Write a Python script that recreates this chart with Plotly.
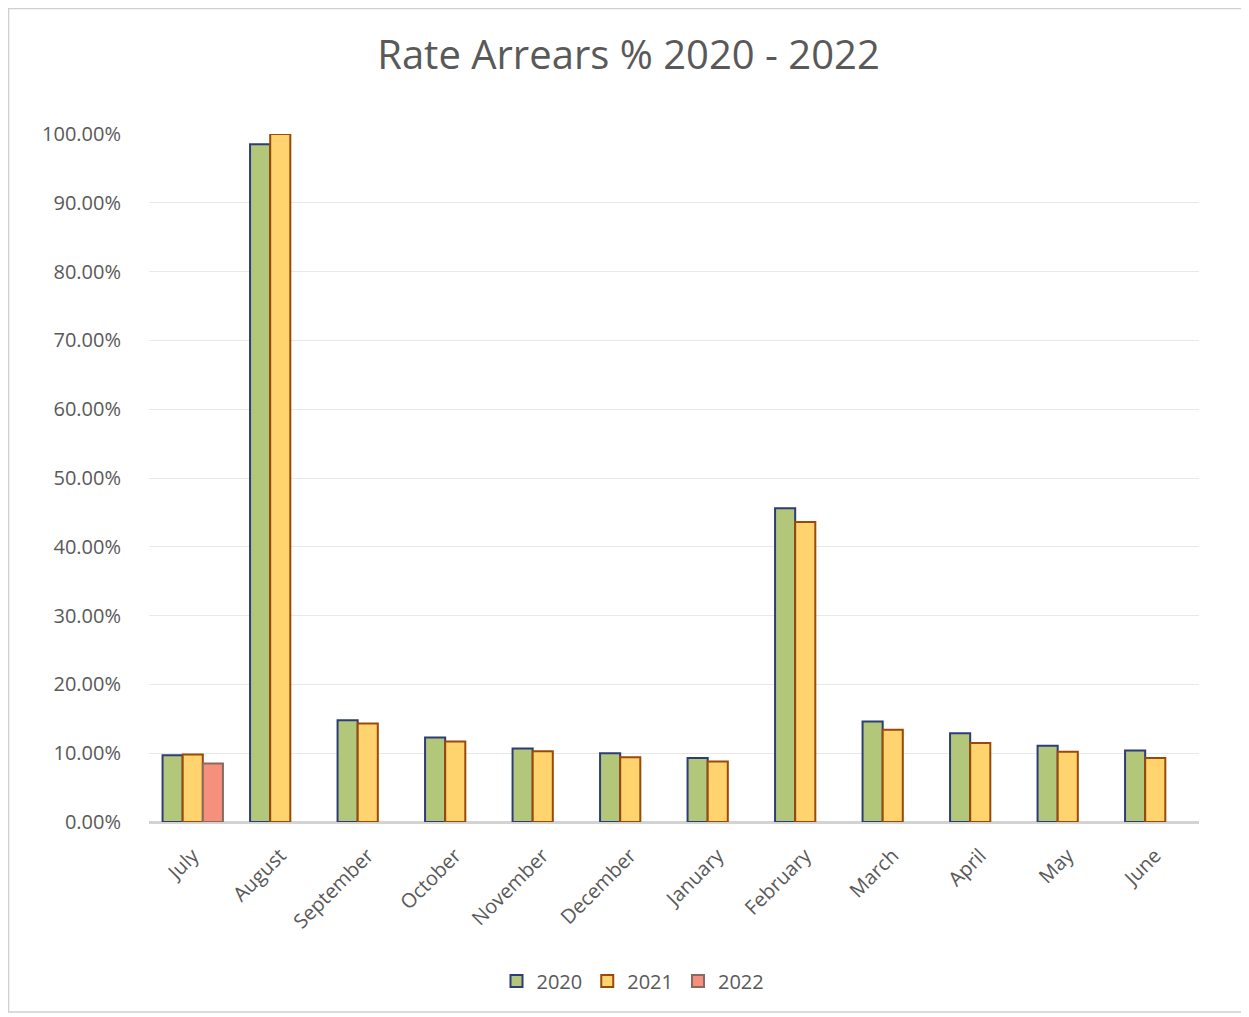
import plotly.graph_objects as go

months = ["July", "August", "September", "October", "November", "December",
          "January", "February", "March", "April", "May", "June"]
series_2020 = [0.097, 0.985, 0.148, 0.123, 0.107, 0.100, 0.093, 0.456, 0.146, 0.129, 0.111, 0.104]
series_2021 = [0.098, 1.000, 0.143, 0.117, 0.103, 0.094, 0.088, 0.436, 0.134, 0.115, 0.102, 0.093]
months_2022 = ["July"]
series_2022 = [0.085]

# page body has an 8px margin; figure coordinates = screen - 8
W, H = 1241, 1009
L, R, T, B = 141, 50, 126, 195
pw = W - L - R
ph = H - T - B

fig = go.Figure()
fig.add_trace(go.Bar(name="2020", x=months, y=series_2020,
                     marker=dict(color="#B3C77A", line=dict(color="#2E3D78", width=2))))
fig.add_trace(go.Bar(name="2021", x=months, y=series_2021,
                     marker=dict(color="#FFD36E", line=dict(color="#9A4A08", width=2))))
fig.add_trace(go.Bar(name="2022", x=months_2022, y=series_2022,
                     marker=dict(color="#F4907C", line=dict(color="#8A6A60", width=2))))

fig.update_layout(
    width=W, height=H,
    margin=dict(l=L, r=R, t=T, b=B),
    paper_bgcolor="white", plot_bgcolor="white",
    barmode="group", bargap=0.31, bargroupgap=0,
    font=dict(family="Open Sans, Noto Sans, sans-serif", color="#595959"),
    title=dict(text="Rate Arrears % 2020 - 2022", x=0.5, xanchor="center",
               y=1 - 47 / H, yanchor="middle",
               font=dict(size=40, color="#595959")),
    xaxis=dict(categoryorder="array", categoryarray=months,
               tickangle=-45, tickfont=dict(size=20, color="#595959"),
               showgrid=False, showline=False, ticks="", ticklabelstandoff=17),
    yaxis=dict(range=[0, 1.0], dtick=0.1, tickformat=".2%",
               tickfont=dict(size=20, color="#595959"),
               showgrid=True, gridcolor="#E8E8E8", gridwidth=1,
               zeroline=True, zerolinecolor="#D3D3D3", zerolinewidth=3,
               ticks="", ticklabelstandoff=27),
    legend=dict(orientation="h", x=(625 - L) / pw, xanchor="center",
                y=(ph - (973 - T)) / ph, yanchor="middle",
                font=dict(size=20, color="#595959"),
                itemwidth=30, traceorder="normal"),
    shapes=[dict(type="rect", xref="paper", yref="paper",
                 x0=(0.5 - L) / pw, x1=(1239 - L) / pw,
                 y0=(ph - (1004 - T)) / ph, y1=(ph - (0.5 - T)) / ph,
                 line=dict(color="#D0D0D0", width=1.5), fillcolor="rgba(0,0,0,0)",
                 layer="below")],
)

fig.write_html("out.html")
